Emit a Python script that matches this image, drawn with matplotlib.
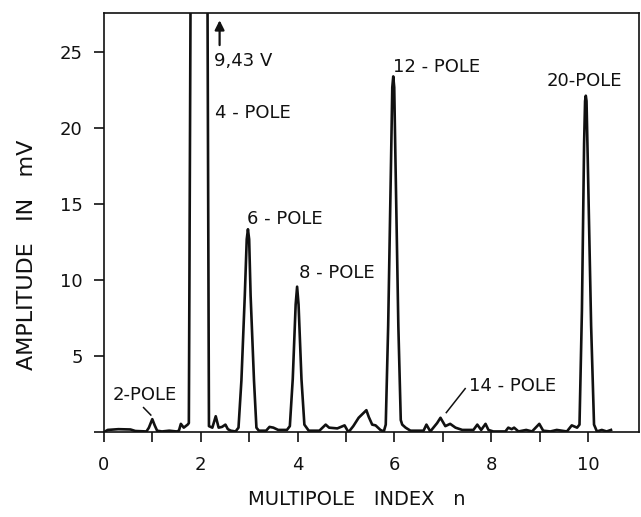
import matplotlib
matplotlib.use("Agg")
import matplotlib.pyplot as plt

# multipole index n and amplitude in mV
n_vals = [0.0, 0.08, 0.3, 0.55, 0.65, 0.88, 0.93, 1.0, 1.05, 1.1, 1.2, 1.35, 1.5, 1.55,
          1.59, 1.65, 1.73, 1.755, 1.79, 1.97, 2.14, 2.17, 2.24, 2.31, 2.37, 2.44, 2.51,
          2.56, 2.62, 2.72, 2.78, 2.84, 2.91, 2.95, 2.975, 3.0, 3.03, 3.10, 3.15, 3.2,
          3.35, 3.42, 3.5, 3.6, 3.78, 3.84, 3.90, 3.96, 3.99, 4.02, 4.08, 4.14, 4.23,
          4.45, 4.58, 4.65, 4.82, 4.97, 5.05, 5.15, 5.26, 5.42, 5.47, 5.54, 5.61, 5.71,
          5.78, 5.82, 5.87, 5.93, 5.955, 5.975, 5.995, 6.02, 6.08, 6.13, 6.16, 6.23,
          6.33, 6.6, 6.66, 6.74, 6.88, 6.95, 7.05, 7.15, 7.26, 7.4, 7.63, 7.71, 7.79,
          7.88, 7.94, 8.04, 8.29, 8.35, 8.42, 8.47, 8.56, 8.72, 8.84, 8.99, 9.07, 9.22,
          9.35, 9.56, 9.66, 9.77, 9.82, 9.87, 9.915, 9.935, 9.95, 9.965, 9.99, 10.06,
          10.12, 10.18, 10.28, 10.38, 10.47]
amp_mv = [0.0, 0.15, 0.2, 0.18, 0.08, 0.05, 0.3, 0.86, 0.45, 0.1, 0.05, 0.1, 0.05, 0.1,
          0.55, 0.3, 0.5, 0.6, 28.5, 9430, 28.5, 0.4, 0.3, 1.05, 0.3, 0.35, 0.5,
          0.2, 0.1, 0.05, 0.3, 3.4, 9.0, 12.7, 13.36, 12.7, 9.0, 3.4, 0.3, 0.1,
          0.1, 0.35, 0.3, 0.15, 0.15, 0.4, 3.5, 8.4, 9.58, 8.4, 3.5, 0.5, 0.1,
          0.1, 0.5, 0.3, 0.25, 0.45, 0.0, 0.4, 0.95, 1.45, 1.0, 0.5, 0.45, 0.15,
          0.05, 0.5, 7.0, 18.0, 22.7, 23.42, 22.7, 18.0, 7.0, 0.8, 0.5, 0.3,
          0.1, 0.1, 0.5, 0.05, 0.6, 0.95, 0.4, 0.55, 0.3, 0.15, 0.15, 0.5, 0.15,
          0.55, 0.15, 0.05, 0.05, 0.3, 0.2, 0.3, 0.05, 0.15, 0.05, 0.55, 0.1, 0.05,
          0.15, 0.05, 0.45, 0.3, 0.5, 8.0, 19.0, 21.8, 22.15, 21.8, 18.0, 7.0,
          0.5, 0.05, 0.15, 0.05, 0.15]

peak_labels = ["2-POLE", "4 - POLE", "6 - POLE", "8 - POLE", "12 - POLE", "14 - POLE", "20-POLE"]
label_pos = [(0.18, 2.45), (2.29, 21.0), (2.96, 14.05), (4.02, 10.45), (5.98, 24.05), (7.53, 3.05), (9.15, 23.1)]

fig = plt.figure(figsize=(6.41, 5.17), dpi=100)
ax = fig.add_axes([0.162, 0.164, 0.835, 0.811])

ax.plot(n_vals, amp_mv, color="#111111", lw=1.9, solid_joinstyle="round")

ax.set_xlim(0, 11.05)
ax.set_ylim(0, 27.6)
ax.set_xticks(range(0, 11))
ax.set_xticklabels([str(i) if i % 2 == 0 else "" for i in range(0, 11)])
ax.set_yticks([0, 5, 10, 15, 20, 25])
ax.set_yticklabels(["", "5", "10", "15", "20", "25"])
ax.tick_params(direction="out", length=7.2, width=1.2, labelsize=13, pad=8, colors="#111111")
ax.tick_params(axis="x", pad=10)
for s in ax.spines.values():
    s.set_linewidth(1.2)
    s.set_color("#111111")

for txt, (x, y) in zip(peak_labels, label_pos):
    ax.text(x, y, txt, fontsize=13, ha="left", va="center", color="#111111")

ax.text(2.27, 24.45, "9,43 V", fontsize=13, ha="left", va="center", color="#111111")
ax.annotate("", xy=(2.39, 27.3), xytext=(2.39, 25.3),
            arrowprops=dict(arrowstyle="-|>", lw=1.6, color="#111111", mutation_scale=14))

# leader lines to the small peaks
ax.plot([0.82, 0.97], [1.62, 1.13], color="#111111", lw=1.1)
ax.plot([7.46, 7.07], [2.87, 1.29], color="#111111", lw=1.1)

ax.set_xlabel("MULTIPOLE   INDEX   n", fontsize=14, color="#111111")
ax.set_ylabel("AMPLITUDE   IN   mV", fontsize=16, color="#111111")
ax.xaxis.set_label_coords(0.473, -0.138)
ax.yaxis.set_label_coords(-0.125, 0.422)

fig.savefig("out.png", dpi=100)
